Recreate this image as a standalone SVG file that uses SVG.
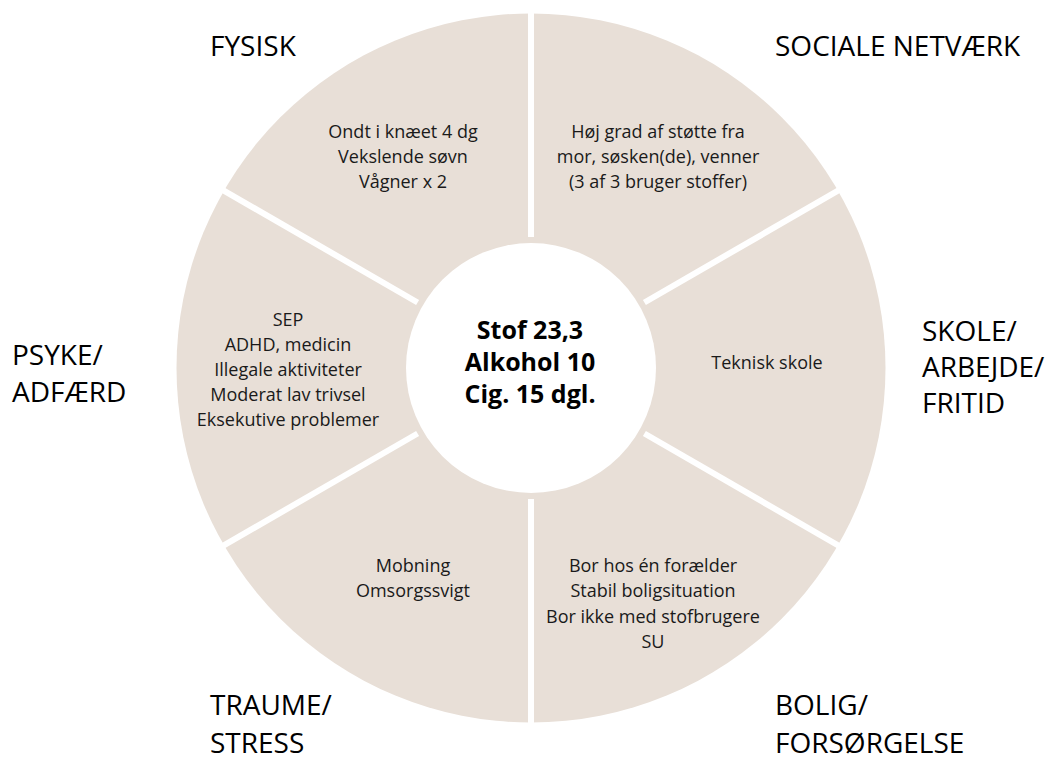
<svg xmlns="http://www.w3.org/2000/svg" width="1060" height="762" viewBox="0 0 1060 762">
<style>
.cat{font-family:"Open Sans","Noto Sans",sans-serif;font-size:28px;fill:#000}
.txt{font-family:"Open Sans","Noto Sans",sans-serif;font-size:18px;fill:#1a1a1a;text-anchor:middle}
.ctr{font-family:"Open Sans","Noto Sans",sans-serif;font-size:25px;font-weight:bold;fill:#000;text-anchor:middle}
.sep{stroke:#fff;stroke-width:6}
</style>
<rect width="1060" height="762" fill="#fff"/>
<g id="wheel">
<circle cx="531" cy="368" r="354.5" fill="#E8DFD7"/>
</g>
<g id="connectors">
<line class="sep" x1="531" y1="237" x2="531" y2="0"/>
<line class="sep" x1="531" y1="499" x2="531" y2="762"/>
<line class="sep" x1="417.6" y1="302.5" x2="99" y2="118.5"/>
<line class="sep" x1="644.4" y1="302.5" x2="963" y2="118.5"/>
<line class="sep" x1="417.6" y1="433.5" x2="99" y2="617.5"/>
<line class="sep" x1="644.4" y1="433.5" x2="963" y2="617.5"/>
</g>
<g id="center">
<circle cx="531" cy="368" r="125" fill="#fff"/>
<text class="ctr" x="530" y="339">Stof 23,3</text>
<text class="ctr" x="530" y="371">Alkohol 10</text>
<text class="ctr" x="530" y="403">Cig. 15 dgl.</text>
</g>
<g id="fysisk">
<text class="cat" x="210" y="56">FYSISK</text>
<text class="txt" x="403" y="138">Ondt i knæet 4 dg</text>
<text class="txt" x="403" y="163">Vekslende søvn</text>
<text class="txt" x="403" y="188">Vågner x 2</text>
</g>
<g id="sociale">
<text class="cat" x="775" y="56">SOCIALE NETVÆRK</text>
<text class="txt" x="658" y="138">Høj grad af støtte fra</text>
<text class="txt" x="658" y="163">mor, søsken(de), venner</text>
<text class="txt" x="658" y="188">(3 af 3 bruger stoffer)</text>
</g>
<g id="skole">
<text class="cat" x="922" y="341">SKOLE/</text>
<text class="cat" x="922" y="377">ARBEJDE/</text>
<text class="cat" x="922" y="413">FRITID</text>
<text class="txt" x="767" y="369">Teknisk skole</text>
</g>
<g id="bolig">
<text class="cat" x="775" y="715">BOLIG/</text>
<text class="cat" x="775" y="753">FORSØRGELSE</text>
<text class="txt" x="653" y="572">Bor hos én forælder</text>
<text class="txt" x="653" y="597">Stabil boligsituation</text>
<text class="txt" x="653" y="623">Bor ikke med stofbrugere</text>
<text class="txt" x="653" y="648">SU</text>
</g>
<g id="traume">
<text class="cat" x="210" y="715">TRAUME/</text>
<text class="cat" x="210" y="753">STRESS</text>
<text class="txt" x="413" y="572">Mobning</text>
<text class="txt" x="413" y="597">Omsorgssvigt</text>
</g>
<g id="psyke">
<text class="cat" x="12" y="365">PSYKE/</text>
<text class="cat" x="12" y="402">ADFÆRD</text>
<text class="txt" x="288" y="326">SEP</text>
<text class="txt" x="288" y="351">ADHD, medicin</text>
<text class="txt" x="288" y="376">Illegale aktiviteter</text>
<text class="txt" x="288" y="401">Moderat lav trivsel</text>
<text class="txt" x="288" y="426">Eksekutive problemer</text>
</g>
</svg>
